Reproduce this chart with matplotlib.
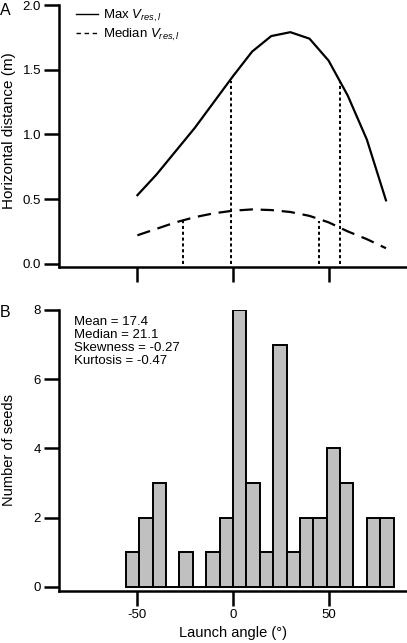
import numpy as np
import matplotlib
matplotlib.use('Agg')
import matplotlib.pyplot as plt

plt.rcParams['font.family'] = ['Liberation Sans', 'DejaVu Sans']
plt.rcParams['mathtext.fontset'] = 'custom'
plt.rcParams['mathtext.rm'] = 'Liberation Sans'
plt.rcParams['mathtext.it'] = 'Liberation Sans:italic'

# Panel A: horizontal distance vs launch angle
angles = [-50, -40, -30, -20, -10, 0, 10, 20, 30, 40, 50, 60, 70, 80]
max_dist = [0.53, 0.69, 0.87, 1.05, 1.25, 1.45, 1.64, 1.76, 1.79, 1.74, 1.57, 1.30, 0.96, 0.49]
median_dist = [0.22, 0.27, 0.32, 0.36, 0.39, 0.41, 0.42, 0.415, 0.40, 0.37, 0.32, 0.25, 0.19, 0.12]
# dotted markers (angle, height)
max_marks_x = [-1, 56]
max_marks_y = [1.41, 1.41]
med_marks_x = [-26, 45]
med_marks_y = [0.33, 0.33]

# Panel B: histogram of launch angles
bin_edges = [-56, -49, -42, -35, -28, -21, -14, -7, 0, 7, 14, 21, 28, 35, 42, 49, 56, 63, 70, 77, 84]
counts = [1, 2, 3, 0, 1, 0, 1, 2, 8, 3, 1, 7, 1, 2, 2, 4, 3, 0, 2, 2]
stats_text = ['Mean = 17.4', 'Median = 21.1', 'Skewness = -0.27', 'Kurtosis = -0.47']

fig = plt.figure(figsize=(4.07, 6.43), dpi=100)
axA = fig.add_axes([0.145, 0.5852, 0.855, 0.407])
axB = fig.add_axes([0.145, 0.0813, 0.855, 0.4366])

spine_w = 1.8
for ax in (axA, axB):
    for s in ['top', 'right']:
        ax.spines[s].set_visible(False)
    for s in ['left', 'bottom']:
        ax.spines[s].set_linewidth(spine_w)
    ax.tick_params(length=11, width=spine_w, labelsize=9.5, pad=2)
    ax.set_xlim(-91, 91)
    ax.set_xticks([-50, 0, 50])

# Panel A
axA.plot(angles, max_dist, color='black', lw=1.6, label=r'Max $V_{res,l}$')
axA.plot(angles, median_dist, color='black', lw=1.6, dashes=(6, 3.5),
         label=r'Median $V_{res,l}$')
for x, y in zip(max_marks_x + med_marks_x, max_marks_y + med_marks_y):
    axA.plot([x, x], [0, y], color='black', lw=1.4, dashes=(1.6, 1.4))
axA.set_ylim(-0.023, 2.0)
axA.set_yticks([0, 0.5, 1.0, 1.5, 2.0])
axA.set_yticklabels(['0.0', '0.5', '1.0', '1.5', '2.0'])
axA.set_xticklabels([])
axA.set_ylabel('Horizontal distance (m)', fontsize=11, labelpad=0)
axA.yaxis.set_label_coords(-0.125, 0.52)
leg = axA.legend(loc='upper left', bbox_to_anchor=(0.015, 1.035), frameon=False,
                 fontsize=9.5, handlelength=1.65, handletextpad=0.4, labelspacing=0.2)
for h in leg.get_lines():
    h.set_linewidth(1.0)
leg.get_lines()[1].set_dashes((3.2, 2.6))
fig.text(0.0, 0.995, 'A', fontsize=11.5, va='top', ha='left')

# Panel B
widths = np.diff(bin_edges)
axB.bar(bin_edges[:-1], counts, width=widths, align='edge', color='#c0c0c0',
        edgecolor='black', linewidth=1.4)
axB.set_ylim(-0.116, 8)
axB.set_yticks([0, 2, 4, 6, 8])
axB.set_xticklabels(['-50', '0', '50'])
axB.set_ylabel('Number of seeds', fontsize=10.5)
axB.yaxis.set_label_coords(-0.125, 0.5)
axB.set_xlabel('Launch angle (°)', fontsize=10.5, labelpad=4)
axB.text(0.043, 0.98, '\n'.join(stats_text), transform=axB.transAxes,
         fontsize=9.5, va='top', ha='left', linespacing=1.12)
fig.text(0.0, 0.525, 'B', fontsize=11.5, va='top', ha='left')

plt.savefig('out.png', dpi=100)
